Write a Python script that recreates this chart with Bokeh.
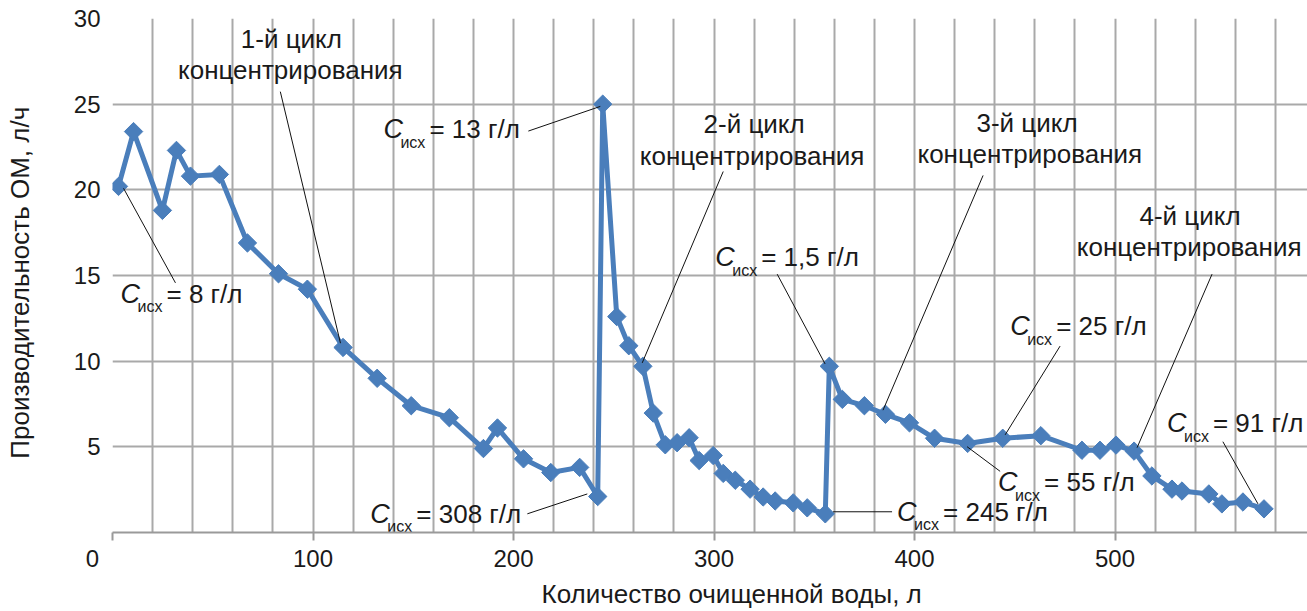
import math
from bokeh.plotting import figure
from bokeh.models import FixedTicker, Range1d
from bokeh.core.properties import value
from bokeh.embed import file_html
from bokeh.resources import INLINE

# ---- data ----
water_l = [3.0, 10.5, 24.9, 31.9, 38.9, 53.3, 67.3, 82.8, 97.2, 115, 132, 149, 168,
           185, 192, 205, 218.6, 233, 242, 244.5, 251.5, 257.5, 264.5, 269.7, 275.7,
           281.6, 287.6, 292.6, 299.6, 304.6, 310.6, 318, 324.5, 330.5, 339.5, 346.5,
           355.5, 357.5, 364, 375, 385.5, 397.5, 410, 426.5, 444, 463, 483.5, 492.5,
           500.5, 509.5, 518.4, 528.4, 533.4, 546.8, 553.3, 563.8, 574.3]
flow_lph = [20.2, 23.4, 18.8, 22.3, 20.8, 20.9, 16.9, 15.1, 14.2, 10.8, 9.0, 7.4, 6.7,
            4.9, 6.1, 4.3, 3.5, 3.8, 2.1, 25.0, 12.6, 10.9, 9.7, 6.97, 5.12,
            5.24, 5.53, 4.2, 4.49, 3.45, 3.05, 2.53, 2.07, 1.84, 1.73, 1.44,
            1.09, 9.7, 7.77, 7.4, 6.9, 6.4, 5.5, 5.2, 5.5, 5.65, 4.8, 4.8,
            5.1, 4.75, 3.3, 2.53, 2.42, 2.25, 1.67, 1.78, 1.38]

x_tick_values = [0, 100, 200, 300, 400, 500]
x_tick_labels = ["0", "100", "200", "300", "400", "500"]
y_tick_values = [5, 10, 15, 20, 25, 30]

c_values = ["= 8 г/л", "= 13 г/л", "= 1,5 г/л", "= 25 г/л", "= 55 г/л",
            "= 245 г/л", "= 308 г/л", "= 91 г/л"]
cycle_names = ["1-й цикл", "2-й цикл", "3-й цикл", "4-й цикл"]

x_title = "Количество очищенной воды, л"
y_title = "Производительность ОМ, л/ч"

# ---- annotation layout ----
c_pos = [(4.0, 13.93), (135.1, 23.55), (300.6, 16.06), (447.7, 12.03),
         (441.7, 2.94), (391.3, 1.21), (128.6, 1.09), (525.9, 6.39)]
cycle_pos = [((89.2, 28.79), (88.7, 27.0)),
             ((320.0, 23.83), (319.0, 21.99)),
             ((456.1, 23.89), (457.5, 22.11)),
             ((537.4, 18.48), (537.0, 16.64))]
leaders = [((5.5, 20.09), (31.4, 14.57)),
           ((83.7, 25.73), (113.7, 11.05)),
           ((207.4, 23.43), (243.3, 24.87)),
           ((304.6, 21.07), (264.2, 9.9)),
           ((331.5, 15.08), (355.4, 9.84)),
           ((434.2, 20.84), (384.3, 7.14)),
           ((548.4, 15.08), (511.0, 4.95)),
           ((472.6, 10.88), (445.2, 5.70)),
           ((426.2, 5.01), (442.7, 3.57)),
           ((359.4, 1.21), (388.8, 1.21)),
           ((206.9, 1.09), (236.8, 2.25)),
           ((553.8, 5.30), (571.3, 1.67))]

TXT = "#1a1a1a"
BLUE = "#4a7ebb"
GRID = "#a9a9a9"
NB = "\u00a0"
FONT = "Liberation Sans"

p = figure(width=1307, height=611, output_backend="svg", toolbar_location=None,
           x_range=Range1d(0, 596), y_range=Range1d(0, 30),
           min_border_left=112, min_border_right=0, min_border_top=18,
           min_border_bottom=72)
p.outline_line_color = None
p.background_fill_color = "white"

p.xgrid.ticker = FixedTicker(ticks=list(range(0, 600, 20)))
p.ygrid.ticker = FixedTicker(ticks=[0, 5, 10, 15, 20, 25, 30])
for g in (p.xgrid, p.ygrid):
    g.grid_line_color = GRID
    g.grid_line_width = 2

xa = p.xaxis[0]
xa.ticker = FixedTicker(ticks=x_tick_values)
overrides = {v: s for v, s in zip(x_tick_values, x_tick_labels)}
overrides[0] = overrides[0] + NB * 6
xa.major_label_overrides = overrides
xa.axis_line_color = "#9a9a9a"
xa.axis_line_width = 2
xa.major_tick_line_color = "#9a9a9a"
xa.major_tick_line_width = 2
xa.major_tick_out = 8
xa.major_tick_in = 0
xa.minor_tick_line_color = None
xa.major_label_standoff = 4
xa.major_label_text_font = FONT
xa.major_label_text_font_size = "24px"
xa.major_label_text_color = TXT
xa.axis_label = NB * 6 + x_title
xa.axis_label_standoff = 4
xa.axis_label_text_font = FONT
xa.axis_label_text_font_size = "26px"
xa.axis_label_text_font_style = "normal"
xa.axis_label_text_color = TXT

ya = p.yaxis[0]
ya.ticker = FixedTicker(ticks=y_tick_values)
ya.axis_line_color = None
ya.major_tick_line_color = None
ya.minor_tick_line_color = None
ya.major_tick_out = 0
ya.major_tick_in = 0
ya.major_label_standoff = 12
ya.major_label_text_font = FONT
ya.major_label_text_font_size = "24px"
ya.major_label_text_color = TXT
ya.axis_label = y_title + NB * 2
ya.axis_label_standoff = 36
ya.axis_label_text_font = FONT
ya.axis_label_text_font_size = "26px"
ya.axis_label_text_font_style = "normal"
ya.axis_label_text_color = TXT

# series
p.line(water_l, flow_lph, line_width=5, line_color=BLUE, line_join="round")
p.scatter(water_l, flow_lph, marker="square", size=13, angle=math.pi / 4,
          fill_color=BLUE, line_color=BLUE)

# leader lines
for (a, b) in leaders:
    p.line([a[0], b[0]], [a[1], b[1]], line_color="#111111", line_width=1)

# C_исх annotations
for (cx, cy), txt in zip(c_pos, c_values):
    p.text([cx], [cy], text=["C"], text_font=value(FONT), text_font_style="italic",
           text_font_size="27px", text_align="left", text_baseline="middle",
           text_color=TXT)
    p.text([cx], [cy], text=["исх"], text_font=value(FONT), text_font_size="16px",
           text_align="left", text_baseline="middle", text_color=TXT,
           x_offset=17, y_offset=13)
    p.text([cx], [cy], text=[txt], text_font=value(FONT), text_font_size="26px",
           text_align="left", text_baseline="middle", text_color=TXT, x_offset=46)

# cycle labels
for name, ((x1, y1), (x2, y2)) in zip(cycle_names, cycle_pos):
    p.text([x1], [y1], text=[name], text_font=value(FONT), text_font_size="26px",
           text_align="center", text_baseline="middle", text_color=TXT)
    p.text([x2], [y2], text=["концентрирования"], text_font=value(FONT),
           text_font_size="26px", text_align="center", text_baseline="middle",
           text_color=TXT)

open("out.html", "w").write(file_html(p, INLINE))
